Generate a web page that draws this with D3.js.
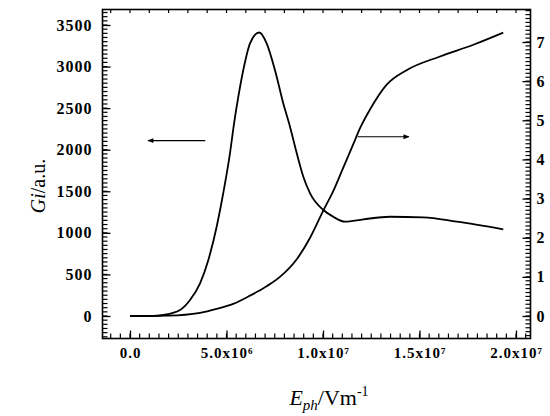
<!DOCTYPE html>
<html><head><meta charset="utf-8">
<script src="https://cdn.jsdelivr.net/npm/d3@7/dist/d3.min.js"></script>
<style>
body{margin:0;background:#fff;}
svg{display:block;}
text{font-family:"Liberation Serif","Times New Roman",serif;fill:#000;}
</style></head><body>
<svg id="c" width="550" height="416"></svg>
<script>
// ---- data ----
const giField = [0,1.2e6,1.725e6,2.59e6,3.11e6,3.63e6,4.06e6,4.49e6,4.83e6,5.18e6,5.40e6,5.60e6,5.87e6,6.22e6,6.70e6,7.08e6,7.51e6,7.94e6,8.29e6,8.64e6,8.98e6,9.33e6,1.002e7,1.053e7,1.114e7,1.209e7,1.347e7,1.52e7,1.693e7,1.934e7];
const giValues = [0,0,12,72,192,393,674,1074,1476,1957,2330,2620,2959,3280,3410,3280,2959,2558,2277,1957,1675,1476,1275,1194,1134,1163,1194,1187,1134,1043];
const rField = [0,2.0e6,3.63e6,4.49e6,5.35e6,6.22e6,7.08e6,7.77e6,8.64e6,9.33e6,1.002e7,1.053e7,1.105e7,1.157e7,1.192e7,1.244e7,1.330e7,1.433e7,1.606e7,1.779e7,1.934e7];
const rValues = [0,0.01,0.08,0.18,0.31,0.52,0.76,1.0,1.45,2.0,2.70,3.19,3.79,4.39,4.80,5.28,5.91,6.28,6.63,6.93,7.24];
const xTickValues = [0,5e6,1e7,1.5e7,2e7];
const xTickLabels = ["0.0","5.0x10⁶","1.0x10⁷","1.5x10⁷","2.0x10⁷"];
const leftTickValues = [0,500,1000,1500,2000,2500,3000,3500];
const rightTickValues = [0,1,2,3,4,5,6,7];

// ---- layout ----
const L=102.5, R=530.5, T=9.5, B=338.5;
const svg = d3.select("#c");
const x = d3.scaleLinear().domain([0,5e6]).range([130,226.5]);
x.domain([x.invert(L), x.invert(R)]).range([L,R]);
const yL = d3.scaleLinear().domain([0,3500]).range([316,25]);
yL.domain([yL.invert(B), yL.invert(T)]).range([B,T]);
const yR = d3.scaleLinear().domain([0,7]).range([316,42]);
yR.domain([yR.invert(B), yR.invert(T)]).range([B,T]);

function styleAxis(g){
  g.select(".domain").remove();
  g.selectAll("line").attr("stroke","#000").attr("stroke-width",1.3);
  g.selectAll("text").style("font-size","16px").style("font-weight","bold").style("letter-spacing","1px");
}
// minor ticks (drawn from the scales)
const minorX = d3.range(-10, 208, 5).map(d=>d*1e5);
const minorL = d3.range(-5, 74, 1).map(d=>d*50);
const minorR = d3.range(-5, 79, 1).map(d=>d/10);
const mg = svg.append("g");
function tick(sel){ return sel.attr("stroke","#000").attr("stroke-width",1.2); }
mg.append("g").selectAll("line").data(minorX).join("line").call(tick)
  .attr("x1",d=>x(d)).attr("x2",d=>x(d)).attr("y1",B).attr("y2",B-5);
mg.append("g").selectAll("line").data(minorX.filter((d,i)=>i%2===0)).join("line").call(tick)
  .attr("x1",d=>x(d)).attr("x2",d=>x(d)).attr("y1",T).attr("y2",T+3.5);
mg.append("g").selectAll("line").data(minorL).join("line").call(tick)
  .attr("y1",d=>yL(d)).attr("y2",d=>yL(d)).attr("x1",L).attr("x2",L+5);
mg.append("g").selectAll("line").data(minorR).join("line").call(tick)
  .attr("y1",d=>yR(d)).attr("y2",d=>yR(d)).attr("x1",R).attr("x2",R-5);

// major ticks with labels
svg.append("g").attr("transform",`translate(0,${B})`)
  .call(d3.axisBottom(x).tickValues(xTickValues).tickSize(-8).tickPadding(9)
    .tickFormat((d,i)=>xTickLabels[i]))
  .call(styleAxis)
  .selectAll("text").style("font-size","15px").style("letter-spacing","1px");
svg.append("g").attr("transform",`translate(${L},0)`)
  .call(d3.axisLeft(yL).tickValues(leftTickValues).tickSize(-8).tickPadding(10).tickFormat(d3.format("d")))
  .call(styleAxis);
svg.append("g").attr("transform",`translate(${R},0)`)
  .call(d3.axisRight(yR).tickValues(rightTickValues).tickSize(-8).tickPadding(6).tickFormat(d3.format("d")))
  .call(styleAxis);

// frame
svg.append("rect").attr("x",L).attr("y",T).attr("width",R-L).attr("height",B-T)
  .attr("fill","none").attr("stroke","#000").attr("stroke-width",1.6);

// curves
const lineL = d3.line().x((d,i)=>x(giField[i])).y(d=>yL(d)).curve(d3.curveMonotoneX);
const lineR = d3.line().x((d,i)=>x(rField[i])).y(d=>yR(d)).curve(d3.curveMonotoneX);
svg.append("path").attr("d",lineL(giValues)).attr("fill","none").attr("stroke","#000").attr("stroke-width",1.8);
svg.append("path").attr("d",lineR(rValues)).attr("fill","none").attr("stroke","#000").attr("stroke-width",1.8);

// arrows
const defs = svg.append("defs");
defs.append("marker").attr("id","ah").attr("viewBox","0 0 10 10").attr("refX",9).attr("refY",5)
  .attr("markerWidth",7).attr("markerHeight",5).attr("orient","auto")
  .append("path").attr("d","M0,1 L10,5 L0,9 Z").attr("fill","#000");
svg.append("line").attr("x1",x(3.9e6)).attr("x2",x(0.93e6)).attr("y1",yL(2110)).attr("y2",yL(2110))
  .attr("stroke","#000").attr("stroke-width",1.2).attr("marker-end","url(#ah)");
svg.append("line").attr("x1",x(1.18e7)).attr("x2",x(1.445e7)).attr("y1",yR(4.58)).attr("y2",yR(4.58))
  .attr("stroke","#000").attr("stroke-width",1.2).attr("marker-end","url(#ah)");

// axis titles
const yt = svg.append("text").attr("transform","translate(45,186) rotate(-90)")
  .attr("text-anchor","middle").style("font-size","20px");
yt.append("tspan").style("font-style","italic").text("Gi");
yt.append("tspan").text("/a.u.");
const xt = svg.append("text").attr("x",329).attr("y",405).attr("text-anchor","middle").style("font-size","22px");
xt.append("tspan").style("font-style","italic").text("E");
xt.append("tspan").style("font-style","italic").style("font-size","15px").attr("dy",5).text("ph");
xt.append("tspan").attr("dy",-5).text("/Vm");
xt.append("tspan").style("font-size","14px").attr("dy",-9).text("-1");
</script></body></html>
